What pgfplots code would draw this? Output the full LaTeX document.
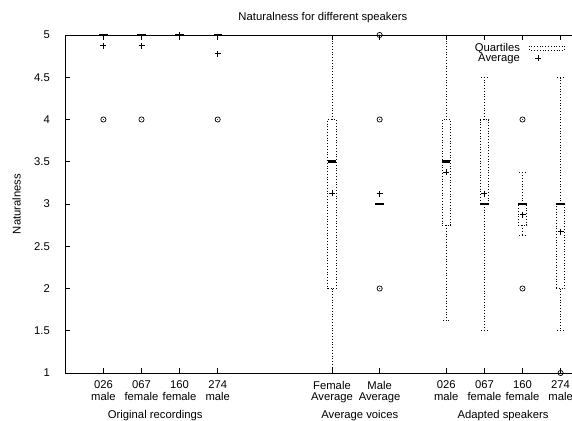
\documentclass[border=0pt]{standalone}
\usepackage{fontspec}
\setmainfont{Liberation Sans}
\usepackage{pgfplots}
\pgfplotsset{compat=1.18}

\pgfdeclareplotmark{odot}{%
  \pgfpathcircle{\pgfpointorigin}{\pgfplotmarksize}\pgfusepathqstroke
  \pgfpathcircle{\pgfpointorigin}{0.5pt}\pgfusepathqfill}

\begin{document}
\fontsize{11.3}{11.4}\selectfont
\begin{tikzpicture}
\begin{axis}[
  scale only axis,
  width=533.4bp, height=338bp,
  xmin=0, xmax=14, ymin=1, ymax=5,
  clip=false,
  unbounded coords=jump,
  axis line style={line width=0.8bp, black},
  tick style={line width=0.8bp, black},
  tick align=inside,
  major tick length=5bp,
  xtick={1,2,3,4,7,8.25,10,11,12,13},
  xticklabels={026\\male,067\\female,160\\female,274\\male,Female\\Average,Male\\Average,026\\male,067\\female,160\\female,274\\male},
  ytick={1,1.5,2,2.5,3,3.5,4,4.5,5},
  yticklabels={1,1.5,2,2.5,3,3.5,4,4.5,5},
  xticklabel style={align=center, font=\fontsize{11.3}{11.4}\selectfont, yshift=-4bp},
  yticklabel style={font=\fontsize{11.3}{11.4}\selectfont, xshift=-11.5bp},
  legend plot pos=right,
  legend cell align=right,
  legend style={draw=none, fill=none, at={(axis cs:13.2,4.935)}, anchor=north east,
    font=\fontsize{11.3}{11.4}\selectfont, nodes={inner sep=0.3bp}, row sep=0bp,
    column sep=9bp},
]
\addlegendimage{legend image code/.code={\draw[black, dotted, line width=0.8bp] (0bp,-2bp) rectangle (35bp,2bp);}}
\addlegendimage{black, only marks, mark=+, mark size=3bp, mark options={line width=0.8bp}}

% quartile boxes (q1 to q3)
\addplot[black, dotted, line width=0.8bp, forget plot] coordinates {
 (6.89,2) (7.11,2) (7.11,4) (6.89,4) (6.89,2) (nan,nan)
 (9.89,2.75) (10.11,2.75) (10.11,4) (9.89,4) (9.89,2.75) (nan,nan)
 (10.89,3) (11.11,3) (11.11,4) (10.89,4) (10.89,3) (nan,nan)
 (11.89,2.75) (12.11,2.75) (12.11,3) (11.89,3) (11.89,2.75) (nan,nan)
 (12.89,2) (13.11,2) (13.11,3) (12.89,3) (12.89,2)
};
% whiskers (min / max with bars)
\addplot[black, dotted, line width=0.8bp, forget plot] coordinates {
 (7,4) (7,5) (nan,nan) (6.91,5) (7.09,5) (nan,nan) (7,2) (7,1) (nan,nan) (6.91,1) (7.09,1) (nan,nan)
 (10,4) (10,5) (nan,nan) (9.91,5) (10.09,5) (nan,nan) (10,2.75) (10,1.625) (nan,nan) (9.91,1.625) (10.09,1.625) (nan,nan)
 (11,4) (11,4.5) (nan,nan) (10.91,4.5) (11.09,4.5) (nan,nan) (11,3) (11,1.5) (nan,nan) (10.91,1.5) (11.09,1.5) (nan,nan)
 (12,3) (12,3.375) (nan,nan) (11.91,3.375) (12.09,3.375) (nan,nan) (12,2.75) (12,2.625) (nan,nan) (11.91,2.625) (12.09,2.625) (nan,nan)
 (13,3) (13,4.5) (nan,nan) (12.91,4.5) (13.09,4.5) (nan,nan) (13,2) (13,1.5) (nan,nan) (12.91,1.5) (13.09,1.5)
};
% medians
\addplot[black, line width=2.8bp, forget plot] coordinates {
 (0.89,5) (1.11,5) (nan,nan) (1.89,5) (2.11,5) (nan,nan) (2.89,5) (3.11,5) (nan,nan) (3.89,5) (4.11,5) (nan,nan)
 (6.89,3.5) (7.11,3.5) (nan,nan) (8.14,3) (8.36,3) (nan,nan)
 (9.89,3.5) (10.11,3.5) (nan,nan) (10.89,3) (11.11,3) (nan,nan) (11.89,3) (12.11,3) (nan,nan) (12.89,3) (13.11,3)
};
% outliers
\addplot[black, forget plot, only marks, mark=odot, mark size=2.6bp, mark options={line width=0.7bp}] coordinates {
 (1,4) (2,4) (4,4) (8.25,5) (8.25,4) (8.25,2) (12,4) (12,2) (13,1)};
% averages
\addplot[black, forget plot, only marks, mark=+, mark size=3bp, mark options={line width=0.8bp}] coordinates {
 (1,4.875) (2,4.875) (3,5) (4,4.78) (7,3.125) (8.25,3.12) (10,3.375) (11,3.12) (12,2.875) (13,2.67)};

\legend{Quartiles,Average}

\node[anchor=base] at (axis cs:6.76,5) [yshift=14.7bp] {Naturalness for different speakers};
\node[xshift=-44.6bp, rotate=90, anchor=base] at (axis cs:0,3) {Naturalness};
\node[anchor=base, yshift=-45.3bp] at (axis cs:2.36,1) {Original recordings};
\node[anchor=base, yshift=-45.3bp] at (axis cs:7.73,1) {Average voices};
\node[anchor=base, yshift=-45.3bp] at (axis cs:11.49,1) {Adapted speakers};
\end{axis}
\pgfresetboundingbox
\path[use as bounding box] ([shift={(-65.3bp,-48bp)}]current axis.south west) rectangle ([shift={(506.7bp,373bp)}]current axis.south west);
\end{tikzpicture}
\end{document}
